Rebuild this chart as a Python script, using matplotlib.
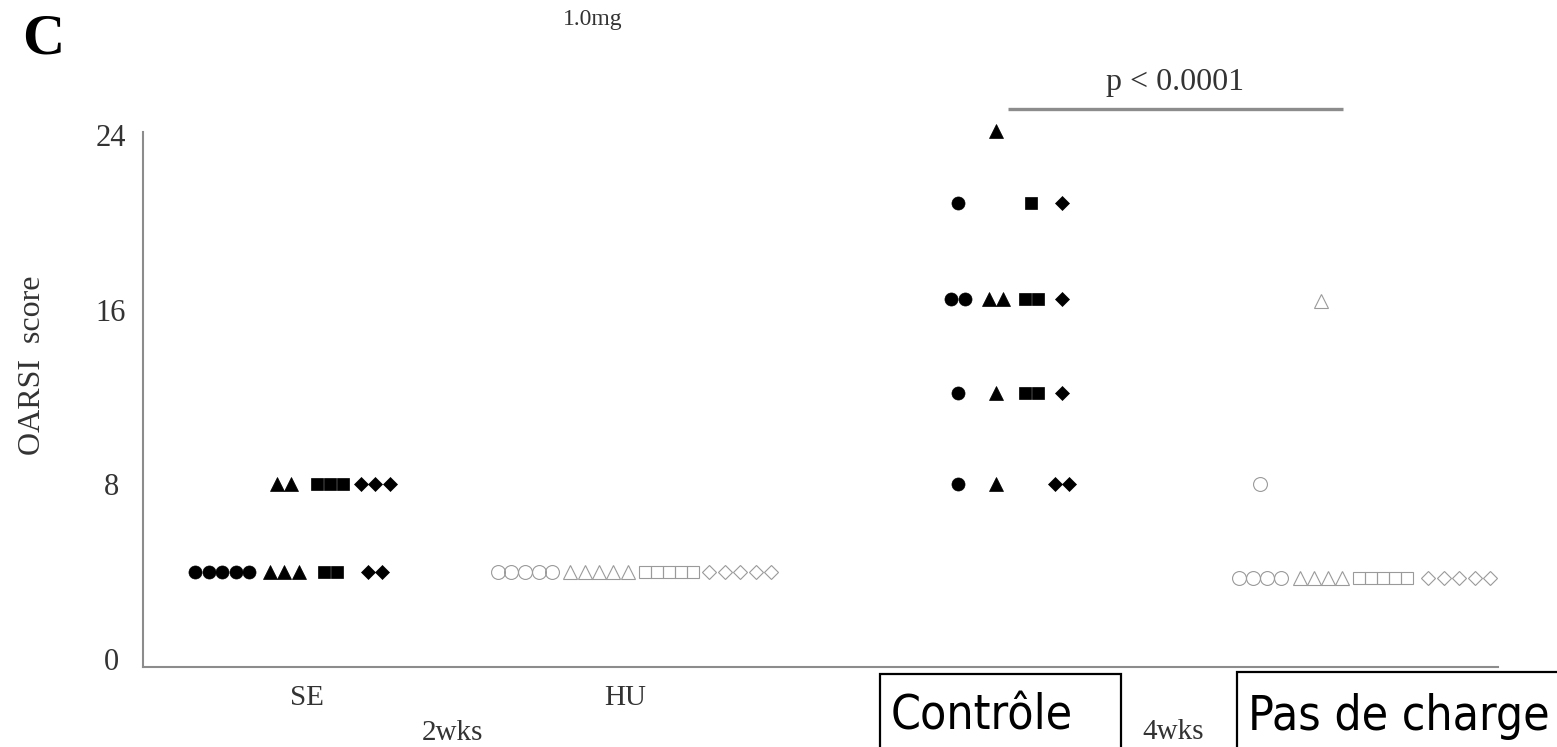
from collections import Counter

import matplotlib.pyplot as plt
from matplotlib.patches import Rectangle

# OARSI score per knee, grouped by animal marker
se_circle = [4, 4, 4, 4, 4]
se_triangle = [4, 4, 4, 8, 8]
se_square = [4, 4, 8, 8, 8]
se_diamond = [4, 4, 8, 8, 8]

hu_circle = [4, 4, 4, 4, 4]
hu_triangle = [4, 4, 4, 4, 4]
hu_square = [4, 4, 4, 4, 4]
hu_diamond = [4, 4, 4, 4, 4]

ctrl_circle = [20.9, 16.5, 16.5, 12.2, 8]
ctrl_triangle = [24.2, 16.5, 16.5, 12.2, 8]
ctrl_square = [20.9, 16.5, 16.5, 12.2, 12.2]
ctrl_diamond = [20.9, 16.5, 12.2, 8, 8]

pdc_circle = [8, 3.7, 3.7, 3.7, 3.7]
pdc_triangle = [16.4, 3.7, 3.7, 3.7, 3.7]
pdc_square = [3.7, 3.7, 3.7, 3.7, 3.7]
pdc_diamond = [3.7, 3.7, 3.7, 3.7, 3.7]

y_ticks = [0, 8, 16, 24]
x_labels = ["SE", "HU"]
p_text = "p < 0.0001"

W, H = 1557, 747


def fx(px):
    return px / W


def fy(py):
    return 1 - py / H


fig = plt.figure(figsize=(W / 100, H / 100), dpi=100)
fig.patch.set_facecolor("white")
plt.rcParams["font.family"] = ["Liberation Serif", "DejaVu Serif"]

# axis spans pixel columns 143..1498, so x is laid out in those units
ax = fig.add_axes([fx(143), 80 / H, (1498 - 143) / W, 535 / H])
ax.set_xlim(143, 1498)
ax.set_ylim(-0.366, 24.14)

# shape -> (marker, size in pt, spacing between neighbours)
shapes = {
    "circle": ("o", 9.4, 13.5),
    "triangle": ("^", 9.6, 14.5),
    "square": ("s", 8.8, 13.0),
    "diamond": ("D", 7.2, 14.5),
}
open_shapes = {
    "circle": ("o", 10.0, 13.7),
    "triangle": ("^", 10.0, 14.3),
    "square": ("s", 8.6, 12.0),
    "diamond": ("D", 7.6, 15.5),
}

groups = [
    (dict(circle=se_circle, triangle=se_triangle, square=se_square, diamond=se_diamond),
     dict(circle=222, triangle=284, square=330, diamond=375), True),
    (dict(circle=hu_circle, triangle=hu_triangle, square=hu_square, diamond=hu_diamond),
     dict(circle=525, triangle=599, square=669, diamond=740), False),
    (dict(circle=ctrl_circle, triangle=ctrl_triangle, square=ctrl_square, diamond=ctrl_diamond),
     dict(circle=958, triangle=996, square=1031, diamond=1062), True),
    (dict(circle=pdc_circle, triangle=pdc_triangle, square=pdc_square, diamond=pdc_diamond),
     dict(circle=1260, triangle=1321, square=1383, diamond=1459), False),
]

for values, centers, filled in groups:
    style = shapes if filled else open_shapes
    for name, vals in values.items():
        marker, ms, step = style[name]
        # same scores sit side by side, centred on the shape's column
        for v, n in Counter(vals).items():
            xs = [centers[name] + (i - (n - 1) / 2) * step for i in range(n)]
            if filled:
                ax.plot(xs, [v] * n, ls="none", marker=marker, ms=ms,
                        mfc="black", mec="black", mew=0.5, clip_on=False)
            else:
                ax.plot(xs, [v] * n, ls="none", marker=marker, ms=ms,
                        mfc="none", mec="#9a9a9a", mew=0.8, clip_on=False)

for side in ["top", "right"]:
    ax.spines[side].set_visible(False)
for side in ["left", "bottom"]:
    ax.spines[side].set_color("#8c8c8c")
    ax.spines[side].set_linewidth(1.5)

ax.set_yticks(y_ticks)
ax.set_yticklabels([str(t) for t in y_ticks], fontsize=22, color="#333333")
for lbl in ax.get_yticklabels():
    lbl.set_horizontalalignment("center")
ax.tick_params(axis="y", length=0, pad=23)

ax.set_xticks([307, 625])
ax.set_xticklabels(x_labels, fontsize=21, color="#333333")
ax.tick_params(axis="x", length=0, pad=13)

# significance bar over the 4wks groups
ax.plot([1008, 1343], [25.2, 25.2], color="#8c8c8c", lw=2.4, clip_on=False,
        solid_capstyle="butt")
ax.text(1175, 25.75, p_text, ha="center", va="bottom", fontsize=23, color="#333333")

fig.text(fx(22), fy(53), "C", fontsize=42, fontweight="bold", ha="left",
         va="baseline", color="black")
fig.text(fx(593), fy(20), "1.0mg", fontsize=17, ha="center", va="center",
         color="#333333")
fig.text(fx(33), fy(365), "OARSI  score", fontsize=23, rotation=90,
         ha="center", va="center", color="#333333")
fig.text(fx(452), fy(733), "2wks", fontsize=21, ha="center", va="center",
         color="#333333")
fig.text(fx(1173), fy(732), "4wks", fontsize=21, ha="center", va="center",
         color="#333333")

# boxed French group names under the 4wks columns
box_font = ["DejaVu Sans"]
fig.patches.append(Rectangle((fx(880), fy(760)), fx(1121 - 880), (760 - 674) / H,
                             transform=fig.transFigure, fill=False,
                             edgecolor="black", lw=1.6))
fig.patches.append(Rectangle((fx(1237), fy(760)), fx(1580 - 1237), (760 - 672) / H,
                             transform=fig.transFigure, fill=False,
                             edgecolor="black", lw=1.6))
fig.text(fx(891), fy(730), "Contrôle", fontsize=34.5, family=box_font,
         fontstretch="condensed", ha="left", va="baseline", color="black")
fig.text(fx(1248), fy(730), "Pas de charge", fontsize=34.5, family=box_font,
         fontstretch="condensed", ha="left", va="baseline", color="black")

fig.savefig("out.png", dpi=100, facecolor="white")
